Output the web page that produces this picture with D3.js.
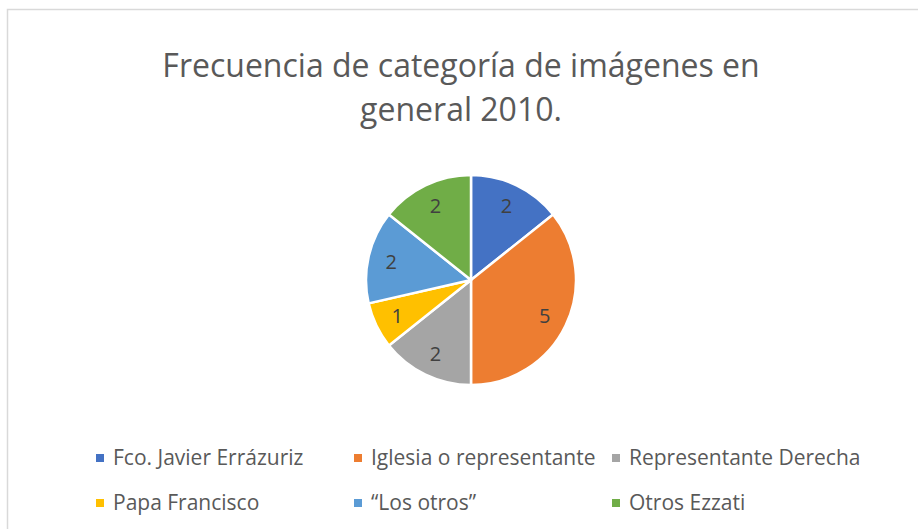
<!DOCTYPE html>
<html><head><meta charset="utf-8">
<script src="https://cdn.jsdelivr.net/npm/d3@7"></script>
<style>body{margin:0;background:#fff}svg{display:block}</style>
</head><body>
<svg id="c" width="918" height="529"></svg>
<script>
const categories = ["Fco. Javier Errázuriz","Iglesia o representante","Representante Derecha","Papa Francisco","“Los otros”","Otros Ezzati"];
const values = [2,5,2,1,2,2];
const colors = ["#4472C4","#ED7D31","#A5A5A5","#FFC000","#5B9BD5","#70AD47"];
const titleLines = ["Frecuencia de categoría de imágenes en","general 2010."];

const svg = d3.select("#c");
svg.append("rect").attr("x",7.5).attr("y",9.5).attr("width",930).attr("height",540)
  .attr("fill","#fff").attr("stroke","#D9D9D9").attr("stroke-width",1.5);

const font = "'Open Sans', sans-serif";
svg.append("g").selectAll("text").data(titleLines).join("text")
  .attr("x",461).attr("y",(d,i)=>77+i*44)
  .attr("text-anchor","middle").attr("font-family",font).attr("font-size",32)
  .attr("fill","#595959").text(d=>d);

const cx=471, cy=280, r=105;
const data = categories.map((c,i)=>({c,v:values[i],col:colors[i]}));
const pie = d3.pie().value(d=>d.v).sort(null);
const arc = d3.arc().innerRadius(0).outerRadius(r);
const labelArc = d3.arc().innerRadius(r*0.78).outerRadius(r*0.78);
const g = svg.append("g").attr("transform",`translate(${cx},${cy})`);
const arcs = pie(data);
g.selectAll("path").data(arcs).join("path").attr("d",arc)
  .attr("fill",d=>d.data.col).attr("stroke","#fff").attr("stroke-width",2.5).attr("stroke-linejoin","round");
g.selectAll("text").data(arcs).join("text")
  .attr("transform",d=>`translate(${labelArc.centroid(d)})`)
  .attr("text-anchor","middle").attr("dy","0.36em")
  .attr("font-family",font).attr("font-size",20).attr("fill","#404040")
  .text(d=>d.data.v);

const colX = [96,354,612], rowY=[458,503];
const lg = svg.append("g").selectAll("g").data(data).join("g")
  .attr("transform",(d,i)=>`translate(${colX[i%3]},${rowY[Math.floor(i/3)]})`);
lg.append("rect").attr("x",0).attr("y",-4).attr("width",8).attr("height",8).attr("fill",d=>d.col);
lg.append("text").attr("x",17).attr("dy","0.35em").attr("font-family",font).attr("font-size",21)
  .attr("fill","#595959").text(d=>d.c);
</script>
</body></html>
